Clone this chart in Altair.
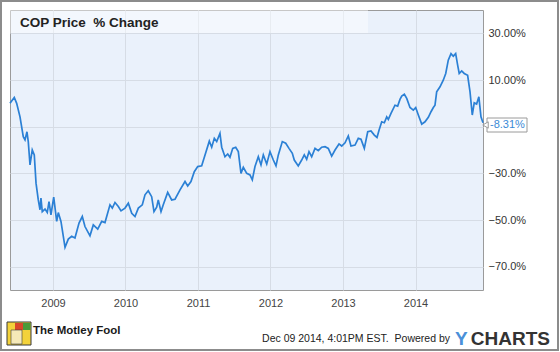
import altair as alt
import pandas as pd

# Decimal-year positions and % change values
years = [
    2008.407, 2008.466, 2008.499, 2008.545, 2008.590, 2008.614, 2008.641, 2008.659, 2008.683, 2008.714,
    2008.742, 2008.766, 2008.797, 2008.821, 2008.834, 2008.852, 2008.890, 2008.921, 2008.945, 2008.972,
    2009.010, 2009.051, 2009.073, 2009.110, 2009.166, 2009.211, 2009.258, 2009.303, 2009.359, 2009.404,
    2009.441, 2009.510, 2009.556, 2009.617, 2009.672, 2009.717, 2009.786, 2009.818, 2009.855, 2009.901,
    2009.938, 2009.993, 2010.039, 2010.086, 2010.131, 2010.177, 2010.232, 2010.269, 2010.314, 2010.361,
    2010.393, 2010.430, 2010.452, 2010.490, 2010.521, 2010.582, 2010.637, 2010.683, 2010.752, 2010.821,
    2010.858, 2010.903, 2010.949, 2010.996, 2011.051, 2011.097, 2011.156, 2011.189, 2011.225, 2011.258,
    2011.303, 2011.327, 2011.372, 2011.410, 2011.441, 2011.479, 2011.520, 2011.556, 2011.593, 2011.625,
    2011.672, 2011.717, 2011.749, 2011.786, 2011.832, 2011.869, 2011.901, 2011.948, 2011.993, 2012.039,
    2012.076, 2012.108, 2012.163, 2012.210, 2012.255, 2012.301, 2012.328, 2012.383, 2012.430, 2012.466,
    2012.499, 2012.531, 2012.568, 2012.614, 2012.659, 2012.706, 2012.752, 2012.797, 2012.844, 2012.890,
    2012.945, 2012.982, 2013.028, 2013.073, 2013.110, 2013.166, 2013.211, 2013.248, 2013.294, 2013.341,
    2013.386, 2013.432, 2013.469, 2013.497, 2013.534, 2013.570, 2013.603, 2013.625, 2013.662, 2013.717,
    2013.754, 2013.786, 2013.810, 2013.846, 2013.879, 2013.924, 2013.970, 2014.003, 2014.039, 2014.086,
    2014.131, 2014.177, 2014.214, 2014.246, 2014.269, 2014.292, 2014.338, 2014.383, 2014.417, 2014.452,
    2014.490, 2014.521, 2014.554, 2014.582, 2014.603, 2014.637, 2014.672, 2014.719, 2014.752, 2014.783,
    2014.810, 2014.843, 2014.874, 2014.903, 2014.931,
]
pct_change = [
    0.0, 2.5, 0.0, -5.8, -14.3, -15.7, -12.2, -16.4, -26.4, -20.0,
    -22.1, -34.2, -41.4, -45.6, -40.6, -46.4, -45.3, -46.8, -42.1, -47.8,
    -40.2, -50.6, -46.8, -50.6, -61.7, -58.2, -57.0, -57.7, -51.3, -48.5,
    -52.8, -56.8, -52.1, -53.9, -50.6, -51.1, -43.5, -44.9, -42.5, -44.2,
    -46.1, -44.9, -42.8, -47.1, -48.5, -44.9, -43.5, -39.2, -37.5, -40.0,
    -46.4, -44.5, -41.4, -46.4, -43.5, -38.2, -41.4, -41.1, -37.1, -33.5,
    -35.4, -33.5, -29.3, -27.1, -26.8, -22.1, -16.2, -18.8, -15.0, -16.4,
    -12.9, -18.8, -22.9, -21.7, -23.1, -19.3, -18.8, -20.7, -30.0, -27.4,
    -30.0, -30.7, -32.8, -27.1, -22.9, -26.4, -22.1, -26.0, -20.7, -24.3,
    -26.8, -22.1, -16.4, -17.1, -19.3, -21.4, -24.3, -26.8, -24.3, -22.1,
    -24.0, -20.7, -22.9, -19.3, -20.3, -18.8, -18.6, -19.3, -22.6, -20.0,
    -17.4, -18.3, -16.9, -14.0, -18.3, -17.9, -15.0, -15.4, -19.3, -12.2,
    -11.8, -13.6, -14.6, -11.5, -7.9, -8.3, -5.8, -6.9, -4.3, -0.8,
    -1.2, 1.7, 3.1, 3.9, 2.1, -1.8, -2.9, -1.8, -5.0, -8.9,
    -7.9, -6.0, -3.6, -1.8, -0.8, 4.9, 7.1, 9.9, 12.8, 18.5,
    21.3, 20.2, 21.3, 16.3, 12.8, 13.9, 12.8, 12.0, 4.9, -5.0,
    0.2, -0.3, 2.8, -5.8, -8.31,
]
year_ticks = [2009, 2010, 2011, 2012, 2013, 2014]
pct_ticks = [30, 10, -10, -30, -50, -70]
last_label = "-8.31%"
title_text = "COP Price\u00a0\u00a0% Change"
footer_text = "Dec 09 2014, 4:01PM EST.\u00a0\u00a0Powered by"

df = pd.DataFrame({"year": years, "pct": pct_change})
one = pd.DataFrame({"k": [0]})  # single row for annotation marks

W, H = 473, 280
FONT = "Liberation Sans"

x_scale = alt.Scale(domain=[years[0], years[-1]], nice=False, zero=False)
y_scale = alt.Scale(domain=[-80, 40], nice=False, zero=False)

label_expr = ("datum.value == 30 ? '30.00%' : datum.value == 10 ? '10.00%' : "
              "datum.value == -10 ? '' : format(datum.value, '.1f') + '%'")

# header band (semi-transparent so grid shows through)
header = alt.Chart(one).mark_rect(fill="#ffffff", fillOpacity=0.45).encode(
    x=alt.value(0), x2=alt.value(358), y=alt.value(0), y2=alt.value(23)
)

line = alt.Chart(df).mark_line(color="#2b80d5", strokeWidth=1.7).encode(
    x=alt.X("year:Q", scale=x_scale,
            axis=alt.Axis(values=year_ticks, format="d", title=None, grid=True,
                          gridColor="#d6dce5", ticks=False, domain=False,
                          labelFont=FONT, labelFontSize=11, labelColor="#444",
                          labelPadding=7)),
    y=alt.Y("pct:Q", scale=y_scale,
            axis=alt.Axis(orient="right", values=pct_ticks, labelExpr=label_expr,
                          title=None, grid=True, gridColor="#d6dce5", ticks=False,
                          domain=False, labelFont=FONT, labelFontSize=11,
                          labelColor="#333", labelPadding=5)),
)

title = alt.Chart(one).mark_text(text=title_text, font=FONT, fontSize=13.5,
                                 fontWeight="bold", color="#222", align="left",
                                 baseline="middle").encode(
    x=alt.value(10), y=alt.value(13)
)

callout_box = alt.Chart(one).mark_rect(fill="white", stroke="#9a9a9a", strokeWidth=1).encode(
    x=alt.value(477), x2=alt.value(517), y=alt.value(108), y2=alt.value(122)
)
callout_arrow = alt.Chart(one).mark_point(shape="triangle-left", filled=True, fill="white",
                                          stroke="#9a9a9a", strokeWidth=1, size=40,
                                          opacity=1).encode(
    x=alt.value(475.5), y=alt.value(115)
)
callout_text = alt.Chart(one).mark_text(text=last_label, font=FONT, fontSize=11,
                                        color="#3a8ad6", align="left",
                                        baseline="middle").encode(
    x=alt.value(480), y=alt.value(115)
)

# outer frame around whole image
frame = alt.Chart(one).mark_rect(fill=None, stroke="#8c8c8c", strokeWidth=2).encode(
    x=alt.value(-9), x2=alt.value(548), y=alt.value(-9), y2=alt.value(340)
)

# footer
logo_bg = alt.Chart(one).mark_rect(fill="#f3d23a", stroke="#3a3a3a", strokeWidth=1).encode(
    x=alt.value(-3), x2=alt.value(21), y=alt.value(312), y2=alt.value(335)
)
logo_red = alt.Chart(one).mark_rect(fill="#d9472b").encode(
    x=alt.value(5), x2=alt.value(13), y=alt.value(313), y2=alt.value(320)
)
logo_green = alt.Chart(one).mark_rect(fill="#4a9a3a").encode(
    x=alt.value(13), x2=alt.value(20.5), y=alt.value(313), y2=alt.value(320)
)
logo_face = alt.Chart(one).mark_rect(fill="#f5e9b8", stroke="#3a3a3a", strokeWidth=0.6).encode(
    x=alt.value(1), x2=alt.value(12), y=alt.value(320), y2=alt.value(334)
)
fool_text = alt.Chart(one).mark_text(text="The Motley Fool", font=FONT, fontSize=11.5,
                                     fontWeight="bold", color="#1a1a1a", align="left",
                                     baseline="middle").encode(
    x=alt.value(23), y=alt.value(321)
)
date_text = alt.Chart(one).mark_text(text=footer_text, font=FONT,
                                     fontSize=10.5, color="#222", align="right",
                                     baseline="middle").encode(
    x=alt.value(440), y=alt.value(329)
)
ych_y = alt.Chart(one).mark_text(text="Y", font=FONT, fontSize=19, fontWeight="bold",
                                 color="#4a90d9", align="left", baseline="alphabetic").encode(
    x=alt.value(445), y=alt.value(335)
)
ych_rest = alt.Chart(one).mark_text(text="CHARTS", font=FONT, fontSize=19, fontWeight="bold",
                                    color="#333", align="right", baseline="alphabetic").encode(
    x=alt.value(540), y=alt.value(335)
)

chart = alt.layer(
    header, line, title, callout_box, callout_arrow, callout_text, frame,
    logo_bg, logo_red, logo_green, logo_face, fool_text, date_text, ych_y, ych_rest
).properties(
    width=W, height=H,
    autosize=alt.AutoSizeParams(type="none"),
    padding={"left": 10, "top": 10, "right": 77, "bottom": 62},
    background="white",
).configure_view(
    fill="#eaf1fb", stroke="#9a9a9a", strokeWidth=1
)

chart.save("out.html", embed_options={"renderer": "svg", "actions": False})
